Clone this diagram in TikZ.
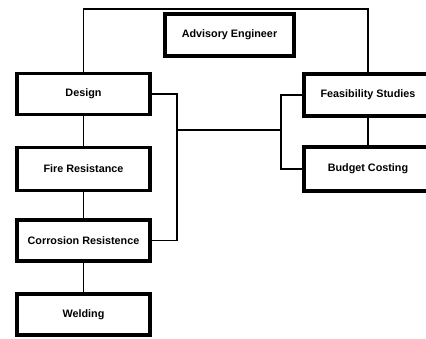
\documentclass[tikz,border=0pt]{standalone}
\usepackage{fontspec}
\setmainfont{Liberation Sans}
\begin{document}
\begin{tikzpicture}[x=1pt,y=-1pt,
  box/.style={draw, line width=3.4pt, minimum width=133pt, minimum height=41pt, inner sep=0pt,
    font=\fontsize{10.8}{12}\selectfont\bfseries},
  conn/.style={line width=1.7pt}]
\useasboundingbox (0,0) rectangle (426,338);
\clip (0,0) rectangle (426,338);
\node[box, minimum width=129pt, minimum height=42pt] (adv) at (229.5,35) {Advisory Engineer};
\node[box] (design) at (83.5,94) {Design};
\node[box, minimum height=43pt] (fire) at (83.5,169) {Fire Resistance};
\node[box] (corr) at (83.5,240.5) {Corrosion Resistence};
\node[box] (weld) at (83.5,314.5) {Welding};
\node[box, minimum width=128pt, minimum height=42pt] (feas) at (368,95) {Feasibility Studies};
\node[box, minimum width=128pt, minimum height=44pt] (budget) at (368,169) {Budget Costing};
\coordinate (tr) at (368,9);
\coordinate (lb) at (177,130);
\coordinate (rb) at (281,130);
\draw[conn] (design.north) |- (tr) -- (feas.north);
\draw[conn] (design.south) -- (fire.north);
\draw[conn] (fire.south) -- (corr.north);
\draw[conn] (corr.south) -- (weld.north);
\draw[conn] (design.east) -| (lb) |- (corr.east);
\draw[conn] (lb) -- (rb);
\draw[conn] (feas.west) -| (rb) |- (budget.west);
\draw[conn] (feas.south) -- (budget.north);
\end{tikzpicture}
\end{document}
